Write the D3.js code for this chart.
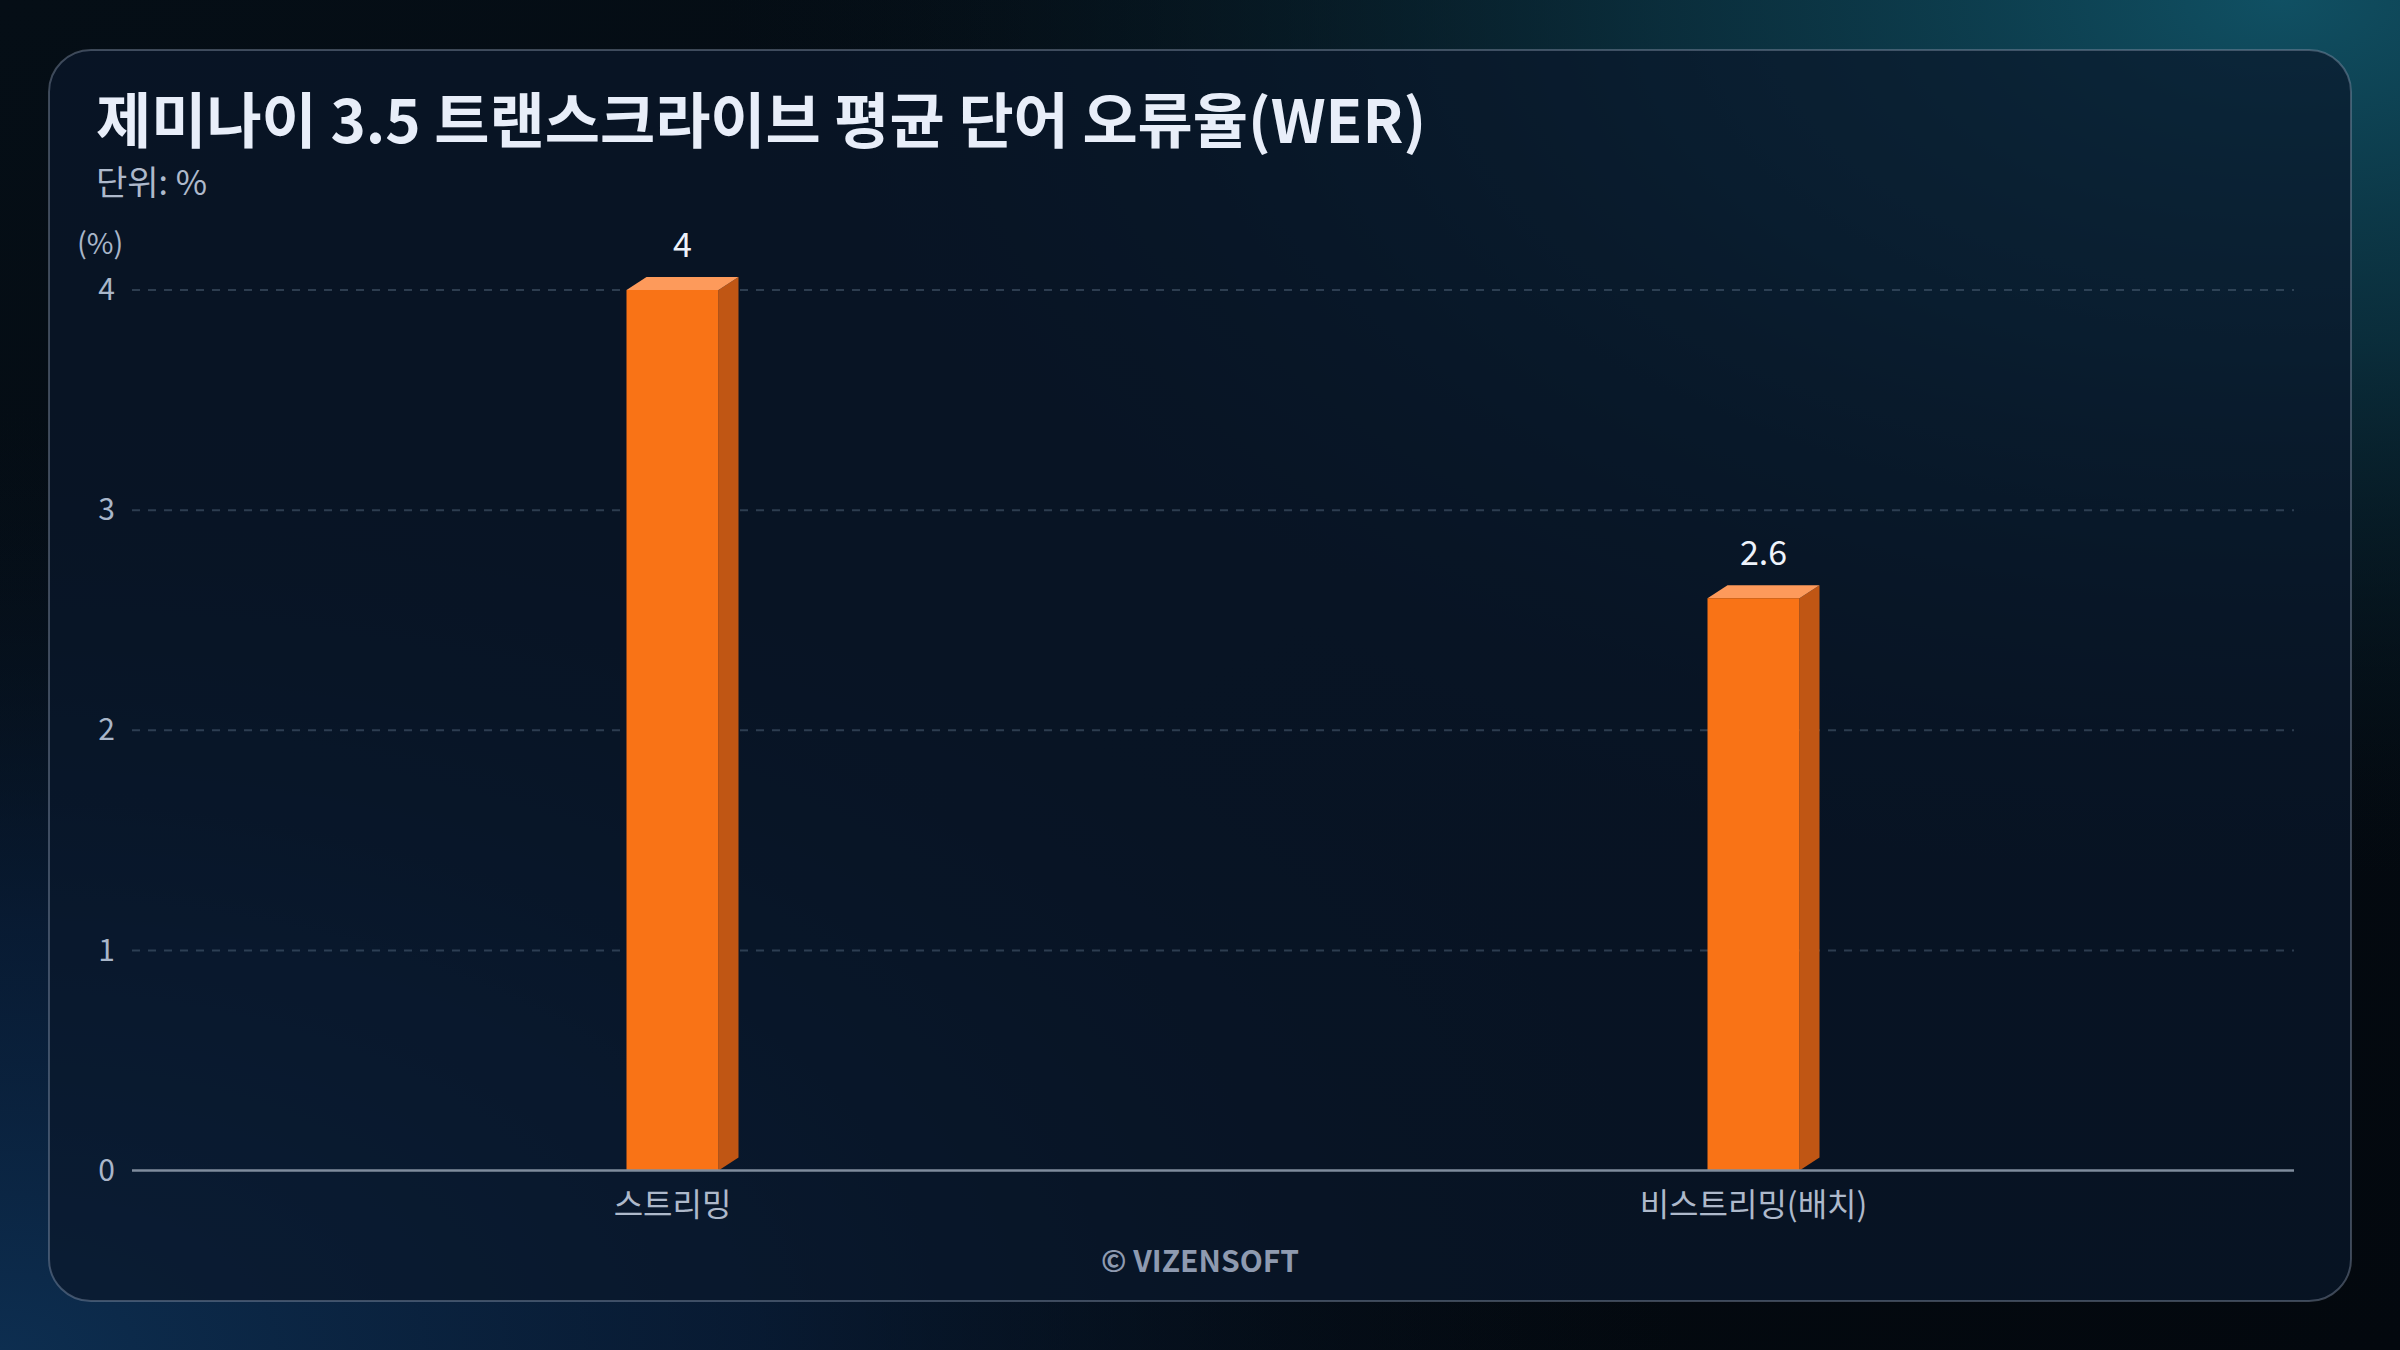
<!DOCTYPE html>
<html>
<head>
<meta charset="utf-8">
<script src="https://cdn.jsdelivr.net/npm/d3@7"></script>
<style>
  html, body { margin: 0; padding: 0; background: #050d15; }
  svg { display: block; }
  text { font-family: "Noto Sans CJK KR", "Noto Sans", sans-serif; }
</style>
</head>
<body>
<div id="chart"></div>
<script>
// chart data
var categories = ["스트리밍", "비스트리밍(배치)"];
var werValues = [4, 2.6];
var valueLabels = ["4", "2.6"];
var yTicks = [0, 1, 2, 3, 4];

var titleText = "제미나이 3.5 트랜스크라이브 평균 단어 오류율(WER)";
var unitText = "단위: %";
var yUnitText = "(%)";
var creditText = "© VIZENSOFT";

// canvas size
var svgWidth = 2400;
var svgHeight = 1350;

var plot = { left: 132, right: 2294, top: 290, bottom: 1170.6 };

var svg = d3.select("#chart")
  .append("svg")
  .attr("width", svgWidth)
  .attr("height", svgHeight);

var defs = svg.append("defs");

// background glows
var bgBase = defs.append("linearGradient")
  .attr("id", "bgBase")
  .attr("x1", 0).attr("y1", 0).attr("x2", 1).attr("y2", 1);
bgBase.append("stop").attr("offset", "0%").attr("stop-color", "#050e16");
bgBase.append("stop").attr("offset", "100%").attr("stop-color", "#03080e");

var glowTR = defs.append("radialGradient")
  .attr("id", "glowTR")
  .attr("cx", "95%").attr("cy", "0%").attr("r", "65%");
glowTR.append("stop").attr("offset", "0%").attr("stop-color", "#105063").attr("stop-opacity", 1);
glowTR.append("stop").attr("offset", "40%").attr("stop-color", "#0c3848").attr("stop-opacity", 0.75);
glowTR.append("stop").attr("offset", "100%").attr("stop-color", "#06141f").attr("stop-opacity", 0);

var glowBL = defs.append("radialGradient")
  .attr("id", "glowBL")
  .attr("cx", "0%").attr("cy", "100%").attr("r", "70%");
glowBL.append("stop").attr("offset", "0%").attr("stop-color", "#0d2e50").attr("stop-opacity", 1);
glowBL.append("stop").attr("offset", "45%").attr("stop-color", "#0a2140").attr("stop-opacity", 0.7);
glowBL.append("stop").attr("offset", "100%").attr("stop-color", "#06101c").attr("stop-opacity", 0);

svg.append("rect").attr("width", svgWidth).attr("height", svgHeight).attr("fill", "url(#bgBase)");
svg.append("rect").attr("width", svgWidth).attr("height", svgHeight).attr("fill", "url(#glowBL)");
svg.append("rect").attr("width", svgWidth).attr("height", svgHeight).attr("fill", "url(#glowTR)");

// card
svg.append("rect")
  .attr("x", 49)
  .attr("y", 50)
  .attr("width", 2302)
  .attr("height", 1251)
  .attr("rx", 42)
  .attr("fill", "#0a182b")
  .attr("fill-opacity", 0.72)
  .attr("stroke", "#8291a6")
  .attr("stroke-opacity", 0.45)
  .attr("stroke-width", 2);

// title + unit
svg.append("text")
  .attr("x", 96)
  .attr("y", 143)
  .attr("font-size", 60)
  .attr("font-weight", 700)
  .attr("fill", "#e8eef9")
  .text(titleText);

svg.append("text")
  .attr("x", 96)
  .attr("y", 195)
  .attr("font-size", 34)
  .attr("fill", "#aeb9cb")
  .text(unitText);

// scales
var xScale = d3.scaleBand()
  .domain(categories)
  .range([plot.left, plot.right])
  .paddingInner(0)
  .paddingOuter(0);

var yScale = d3.scaleLinear()
  .domain([0, 4])
  .range([plot.bottom, plot.top]);

var chartGroup = svg.append("g");

// grid lines
chartGroup.selectAll(".grid")
  .data(yTicks.filter(d => d > 0))
  .enter()
  .append("line")
  .attr("class", "grid")
  .attr("x1", plot.left)
  .attr("x2", plot.right)
  .attr("y1", d => yScale(d))
  .attr("y2", d => yScale(d))
  .attr("stroke", "#5b6f86")
  .attr("stroke-opacity", 0.45)
  .attr("stroke-width", 2)
  .attr("stroke-dasharray", "8 8");

// y axis tick labels
var leftAxis = d3.axisLeft(yScale)
  .tickValues(yTicks)
  .tickSize(0)
  .tickPadding(0)
  .tickFormat(d3.format("d"));

var yAxis = chartGroup.append("g")
  .attr("transform", "translate(115, 0)")
  .call(leftAxis);
yAxis.select(".domain").remove();
yAxis.selectAll("text")
  .attr("font-size", 30)
  .attr("fill", "#a9b6c9")
  .attr("font-family", "\"Noto Sans CJK KR\", sans-serif");

svg.append("text")
  .attr("x", 77)
  .attr("y", 254)
  .attr("font-size", 29)
  .attr("fill", "#a9b6c9")
  .text(yUnitText);

// bars (3d box look)
var barWidth = 92;
var depthX = 20;
var depthY = 13;

var bars = chartGroup.selectAll(".bar")
  .data(categories)
  .enter()
  .append("g")
  .attr("class", "bar");

function barX(d) {
  return xScale(d) + xScale.bandwidth() / 2 - barWidth / 2;
}

// side face
bars.append("path")
  .attr("d", function(d, i) {
    var x0 = barX(d) + barWidth;
    var yTop = yScale(werValues[i]);
    var yBot = yScale(0);
    return "M" + x0 + "," + yTop +
      "L" + (x0 + depthX) + "," + (yTop - depthY) +
      "L" + (x0 + depthX) + "," + (yBot - depthY) +
      "L" + x0 + "," + yBot + "Z";
  })
  .attr("fill", "#c05614");

// top face
bars.append("path")
  .attr("d", function(d, i) {
    var x0 = barX(d);
    var yTop = yScale(werValues[i]);
    return "M" + x0 + "," + yTop +
      "L" + (x0 + depthX) + "," + (yTop - depthY) +
      "L" + (x0 + barWidth + depthX) + "," + (yTop - depthY) +
      "L" + (x0 + barWidth) + "," + yTop + "Z";
  })
  .attr("fill", "#fd9a5b");

// front face
bars.append("rect")
  .attr("x", d => barX(d))
  .attr("y", (d, i) => yScale(werValues[i]))
  .attr("width", barWidth)
  .attr("height", (d, i) => yScale(0) - yScale(werValues[i]))
  .attr("fill", "#f97316");

// value labels
bars.append("text")
  .attr("x", d => barX(d) + (barWidth + depthX) / 2)
  .attr("y", (d, i) => yScale(werValues[i]) - 33)
  .attr("text-anchor", "middle")
  .attr("font-size", 34)
  .attr("fill", "#eef3fb")
  .text((d, i) => valueLabels[i]);

// baseline
chartGroup.append("line")
  .attr("x1", plot.left)
  .attr("x2", plot.right)
  .attr("y1", yScale(0))
  .attr("y2", yScale(0))
  .attr("stroke", "#7f8c9d")
  .attr("stroke-width", 2.5);

// x axis labels
var bottomAxis = d3.axisBottom(xScale).tickSize(0).tickPadding(0);
var xAxis = chartGroup.append("g")
  .attr("transform", "translate(0, 1193)")
  .call(bottomAxis);
xAxis.select(".domain").remove();
xAxis.selectAll("text")
  .attr("font-size", 32)
  .attr("fill", "#aeb9cb")
  .attr("font-family", "\"Noto Sans CJK KR\", sans-serif");

// credit
svg.append("text")
  .attr("x", svgWidth / 2)
  .attr("y", 1272)
  .attr("text-anchor", "middle")
  .attr("font-size", 30)
  .attr("font-weight", 700)
  .attr("fill", "#8e9ab0")
  .text(creditText);
</script>
</body>
</html>
